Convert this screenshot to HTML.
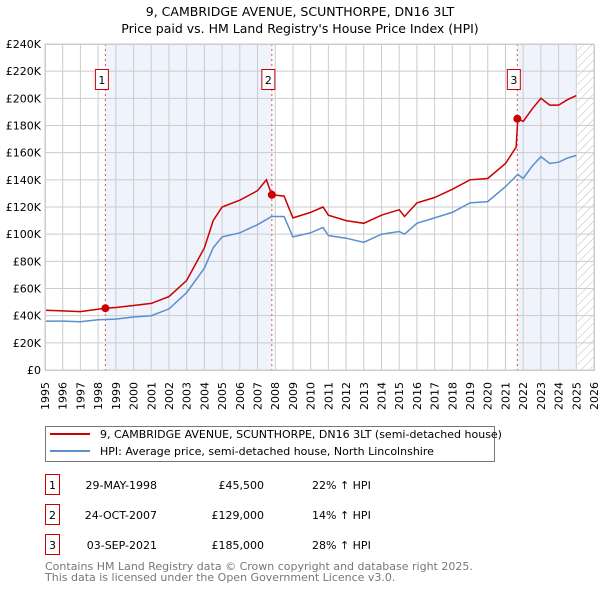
<!DOCTYPE html>
<html><head><meta charset="utf-8"><style>
body{margin:0;background:#fff;font-family:"DejaVu Sans","Liberation Sans",sans-serif;}
svg text{font-family:"DejaVu Sans","Liberation Sans",sans-serif;}
</style></head><body>
<svg id="c" width="600" height="590" xmlns="http://www.w3.org/2000/svg">
<defs><pattern id="hatch" width="6" height="6" patternUnits="userSpaceOnUse" patternTransform="rotate(45)"><line x1="0" y1="0" x2="0" y2="6" stroke="#bbb" stroke-width="1"/></pattern></defs>
<text x="300" y="16" text-anchor="middle" font-size="12.5">9, CAMBRIDGE AVENUE, SCUNTHORPE, DN16 3LT</text>
<text x="300" y="33" text-anchor="middle" font-size="12.5">Price paid vs. HM Land Registry's House Price Index (HPI)</text>
<g id="plot"></g>
<g>
<rect x="45.5" y="426.5" width="449" height="35" fill="#fff" stroke="#777"/>
<line x1="50" y1="434" x2="90" y2="434" stroke="#cc0000" stroke-width="2"/>
<text x="100" y="438" font-size="11">9, CAMBRIDGE AVENUE, SCUNTHORPE, DN16 3LT (semi-detached house)</text>
<line x1="50" y1="451" x2="90" y2="451" stroke="#5b8fd0" stroke-width="2"/>
<text x="100" y="455" font-size="11">HPI: Average price, semi-detached house, North Lincolnshire</text>
</g>
<g id="table" font-size="11"></g>
<text x="45" y="570" font-size="11" fill="#777">Contains HM Land Registry data © Crown copyright and database right 2025.</text>
<text x="45" y="581" font-size="11" fill="#777">This data is licensed under the Open Government Licence v3.0.</text>
</svg>
<script>
const hpiYears=[1995,1996,1997,1998,1999,2000,2001,2002,2003,2004,2004.5,2005,2006,2007,2007.8,2008.5,2009,2010,2010.7,2011,2012,2013,2014,2015,2015.3,2016,2017,2018,2019,2020,2021,2021.7,2022,2022.5,2023,2023.5,2024,2024.5,2025];
const hpiValues=[36,36,35.5,37,37.5,39,40,45,57,75,90,98,101,107,113,113,98,101,105,99,97,94,100,102,100,108,112,116,123,124,135,144,141,150,157,152,153,156,158];
const propYears=[1995,1996,1997,1998.4,1999,2000,2001,2002,2003,2004,2004.5,2005,2006,2007,2007.5,2007.8,2008.5,2009,2010,2010.7,2011,2012,2013,2014,2015,2015.3,2016,2017,2018,2019,2020,2021,2021.6,2021.7,2022,2022.5,2023,2023.5,2024,2024.5,2025];
const propValues=[44,43.5,43,45.5,46,47.5,49,54,66,90,110,120,125,132,140,129,128,112,116,120,114,110,108,114,118,113,123,127,133,140,141,152,164,185,183,192,200,195,195,199,202];
const saleYears=[1998.41,2007.81,2021.67];
const saleValues=[45.5,129,185];
const saleLabels=["1","2","3"];
const saleDates=["29-MAY-1998","24-OCT-2007","03-SEP-2021"];
const salePrices=["£45,500","£129,000","£185,000"];
const saleDiffs=["22% ↑ HPI","14% ↑ HPI","28% ↑ HPI"];
const yTicks=[0,20,40,60,80,100,120,140,160,180,200,220,240];
const xTicks=[1995,1996,1997,1998,1999,2000,2001,2002,2003,2004,2005,2006,2007,2008,2009,2010,2011,2012,2013,2014,2015,2016,2017,2018,2019,2020,2021,2022,2023,2024,2025,2026];
const X0=45,X1=594,Y0=370,Y1=44;
const xs=y=>X0+(y-1995)/(2026-1995)*(X1-X0);
const ys=v=>Y0-v/240*(Y0-Y1);
const NS="http://www.w3.org/2000/svg";
const plot=document.getElementById('plot');
function mk(tag,attrs,parent){const e=document.createElementNS(NS,tag);for(const k in attrs)e.setAttribute(k,attrs[k]);(parent||plot).appendChild(e);return e;}
mk('rect',{x:X0,y:Y1,width:X1-X0,height:Y0-Y1,fill:'#fff'});
let r=mk('rect',{x:xs(saleYears[0]),y:Y1,width:xs(saleYears[1])-xs(saleYears[0]),height:Y0-Y1,fill:'#eef3fc'});


r=mk('rect',{x:xs(saleYears[2]),y:Y1,width:xs(2025)-xs(saleYears[2]),height:Y0-Y1,fill:'#eef3fc'});


r=mk('rect',{x:xs(2025.05),y:Y1,width:X1-xs(2025.05),height:Y0-Y1,fill:'url(#hatch)'});


yTicks.forEach(v=>{
  const l=mk('line',{x1:X0,x2:X1,y1:ys(v),y2:ys(v),stroke:'#ccc','stroke-width':1});
  
  
  const t=mk('text',{x:X0-4,y:ys(v)+4,'text-anchor':'end','font-size':11});
  t.textContent=v===0?'£0':'£'+v+'K';
  
  
});
xTicks.forEach(y=>{
  const l=mk('line',{x1:xs(y),x2:xs(y),y1:Y1,y2:Y0,stroke:'#ccc','stroke-width':1});
  
  
  const t=mk('text',{x:0,y:0,'text-anchor':'end','font-size':11,transform:'translate('+(xs(y)+4)+','+(Y0+12)+') rotate(-90)'});
  t.textContent=y;
  
  
});
saleYears.forEach((y,i)=>{
  const l=mk('line',{x1:xs(y),x2:xs(y),y1:Y1,y2:Y0,stroke:'#e05050','stroke-width':1,'stroke-dasharray':'2,3'});
  
  
});
function path(xsA,vs){return xsA.map((y,i)=>(i?'L':'M')+xs(y).toFixed(1)+','+ys(vs[i]).toFixed(1)).join('');}
let p=mk('path',{d:path(hpiYears,hpiValues),fill:'none',stroke:'#5b8fd0','stroke-width':1.5});


p=mk('path',{d:path(propYears,propValues),fill:'none',stroke:'#cc0000','stroke-width':1.5});


saleYears.forEach((y,i)=>{
  const c=mk('circle',{cx:xs(y),cy:ys(saleValues[i]),r:4,fill:'#cc0000'});
  
  
  const bx=mk('rect',{x:xs(y)-10,y:69.5,width:13,height:20,fill:'#fff',stroke:'#cc0000'});
  
  
  const t=mk('text',{x:xs(y)-3.5,y:84,'text-anchor':'middle','font-size':11});
  t.textContent=saleLabels[i];
  
  
});
mk('rect',{x:X0+0.5,y:Y1+0.5,width:X1-X0,height:Y0-Y1,fill:'none',stroke:'#ccc'});
const tb=document.getElementById('table');
const rowY=[485,515,545];
saleLabels.forEach((s,i)=>{
  const y=rowY[i];
  const b=mk('rect',{x:45.5,y:y-10.5,width:14,height:20,fill:'#fff',stroke:'#cc0000'},tb);
  
  
  const vals=[[52.5,s,'middle'],[157,saleDates[i],'end'],[264,salePrices[i],'end'],[312,saleDiffs[i],'start']];
  vals.forEach(v=>{const t=mk('text',{x:v[0],y:y+4,'text-anchor':v[2]},tb);t.textContent=v[1];
    
    });
});
</script>
</body></html>
